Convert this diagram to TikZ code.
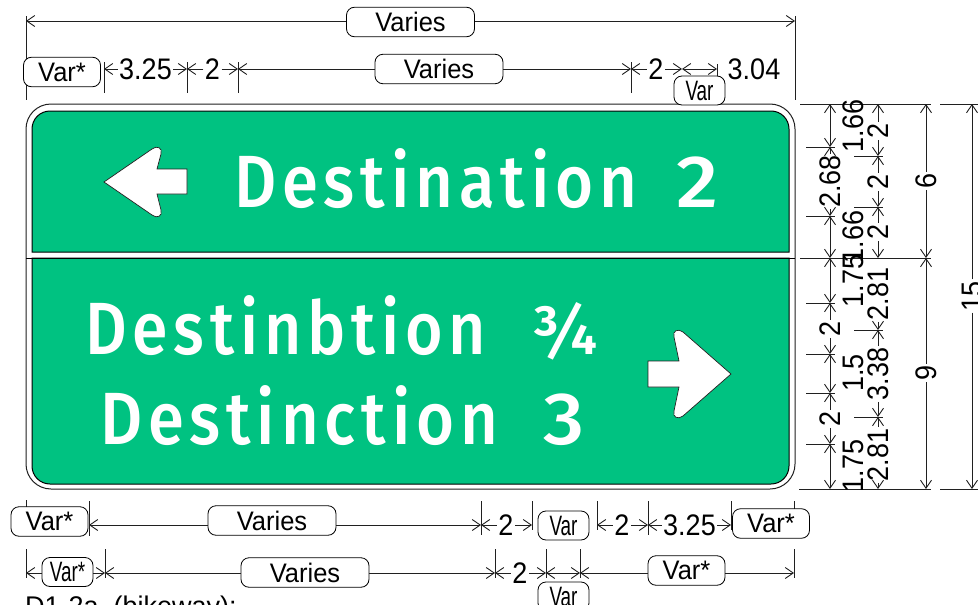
\documentclass[tikz,border=0pt]{standalone}
\usepackage{fontspec}
\setmainfont{Liberation Sans}
\newfontfamily\signfont[LetterSpace=9,Ligatures=NoCommon]{Fira Sans Medium}
\usetikzlibrary{arrows.meta}
\definecolor{signgreen}{HTML}{00C281}
\definecolor{inkline}{HTML}{202020}
\tikzset{
  dimline/.style={draw=inkline,line width=0.9pt,-{Straight Barb[length=8pt,width=11pt]}},
  dimboth/.style={draw=inkline,line width=0.9pt,{Straight Barb[length=8pt,width=11pt]}-{Straight Barb[length=8pt,width=11pt]}},
  extline/.style={draw=inkline,line width=0.9pt},
  pill/.style={draw=black,fill=white,line width=0.8pt,rounded corners=8pt,inner sep=0pt,font=\fontsize{25.5}{25.5}\selectfont},
  bigpill/.style={pill,minimum width=128pt,minimum height=29.5pt},
  midpill/.style={pill,minimum width=77pt,minimum height=29.5pt},
  smallpill/.style={pill,minimum width=51pt,minimum height=29pt},
  lab/.style={inner sep=1.5pt,font=\fontsize{27}{27}\selectfont},
  vlab/.style={lab,rotate=90},
  signtext/.style={inner sep=0pt,text=white,anchor=base west,font=\signfont\fontsize{74}{74}\selectfont},
  signpanel/.style={draw=black,line width=1pt,fill=signgreen},
  signarrow/.style={draw=inkline,line width=0.7pt,fill=white}
}
\newcommand{\hconn}[3]{\draw[dimline] (#3 -| #1.#2) -- (#3);}
\newcommand{\narrowvar}[1]{\scalebox{0.74}[1.1]{#1}}
\newcommand{\tall}[1]{\scalebox{1}[1.1]{#1}}
\newcommand{\ptall}[1]{\scalebox{1}[1.05]{#1}}
\begin{document}
\begin{tikzpicture}[x=1pt,y=-1pt]
\useasboundingbox (0,0) rectangle (978,605);
% sign
\draw[draw=inkline,line width=1pt,fill=white,rounded corners=25pt] (26,104) rectangle (795,489);
\path[signpanel] (32,252) [rounded corners=18pt] -- (32,111) -- (789,111) [sharp corners] -- (789,252) -- cycle;
\path[signpanel] (32,258) -- (789,258) [rounded corners=18pt] -- (789,484) -- (32,484) [sharp corners] -- cycle;
\draw[draw=black,line width=1pt] (26,258) -- (795,258);
\node[signtext] (dest2) at (234,207) {\resizebox{403pt}{\height}{Destination}\hspace{14pt} \resizebox{42pt}{\height}{2}};
\node[signtext] (dest3) at (85,354) {\resizebox{401pt}{\height}{Destinbtion}};
\node[signtext] (frac) at (531,354) {\resizebox{67pt}{52pt}{¾}};
\node[signtext] (dest4) at (100,444) {\resizebox{398pt}{\height}{Destinction}\hspace{20pt} \resizebox{41pt}{\height}{3}};
\path[signarrow] (104,182) -- (152,149) .. controls (157,145) and (163,148) .. (161,154) -- (157,169) -- (187,169) -- (187,194) -- (157,194) -- (161,210) .. controls (163,216) and (157,219) .. (152,215) -- cycle;
\path[signarrow] (731,374) -- (683,332) .. controls (678,328) and (672,331) .. (674,337) -- (679,361) -- (648,361) -- (648,387) -- (679,387) -- (674,411) .. controls (672,417) and (678,420) .. (683,416) -- cycle;
% extension lines top
\draw[extline] (26,16) -- (26,100);
\draw[extline] (795,16) -- (795,100);
\draw[extline] (104,62) -- (104,93);
\draw[extline] (187,62) -- (187,93);
\draw[extline] (238,62) -- (238,93);
\draw[extline] (631,62) -- (631,93);
\draw[extline] (717,64) -- (717,76);
% row 1
\coordinate (r1l) at (26,21);
\coordinate (r1r) at (795,21);
\node[bigpill] (r1v) at (410.5,22) {\ptall{Varies}};
\hconn{r1v}{west}{r1l}
\hconn{r1v}{east}{r1r}
% row 2
\coordinate (r2a) at (104,69);
\coordinate (r2b) at (187,69);
\coordinate (r2c) at (238,69);
\coordinate (r2d) at (631,69);
\coordinate (r2e) at (682,69);
\coordinate (r2f) at (717,69);
\node[midpill] (r2var) at (62,72) {\ptall{Var*}};
\node[lab] (r2n1) at (145.5,69) {\tall{3.25}};
\node[lab] (r2n2) at (212.5,69) {\tall{2}};
\node[bigpill] (r2v) at (439,69) {\ptall{Varies}};
\node[lab] (r2n3) at (656,69) {\tall{2}};
\node[lab] (r2n4) at (754,69) {\tall{3.04}};
\node[smallpill,minimum height=29pt] (r2s) at (699.5,90.5) {\narrowvar{Var}};
\draw[dimline] (r2n1) -- (r2a);
\draw[dimline] (r2n1) -- (r2b);
\draw[dimline] (r2n2) -- (r2b);
\draw[dimline] (r2n2) -- (r2c);
\hconn{r2v}{west}{r2c}
\hconn{r2v}{east}{r2d}
\draw[dimline] (r2n3) -- (r2d);
\draw[dimline] (r2n3) -- (r2e);
\draw[dimboth] (r2e) -- (r2f);
% row 3
\coordinate (r3a) at (89,525);
\coordinate (r3b) at (481,525);
\coordinate (r3c) at (532,525);
\coordinate (r3d) at (597,525);
\coordinate (r3e) at (648,525);
\coordinate (r3f) at (731,525);
\draw[extline] (26,500) -- (26,508);
\draw[extline] (89,501) -- (89,536);
\draw[extline] (481,501) -- (481,535);
\draw[extline] (532,501) -- (532,530);
\draw[extline] (597,501) -- (597,530);
\draw[extline] (648,501) -- (648,535);
\draw[extline] (731,501) -- (731,530);
\draw[extline] (794,501) -- (794,510);
\node[midpill] (r3var) at (49.5,521.5) {\ptall{Var*}};
\node[bigpill] (r3v) at (272,520.5) {\ptall{Varies}};
\node[lab] (r3n1) at (506,525) {\tall{2}};
\node[smallpill] (r3s) at (563.5,525.5) {\narrowvar{Var}};
\node[lab] (r3n2) at (622,525) {\tall{2}};
\node[lab] (r3n3) at (689.5,525) {\tall{3.25}};
\node[midpill] (r3end) at (771,523.5) {\ptall{Var*}};
\hconn{r3v}{west}{r3a}
\hconn{r3v}{east}{r3b}
\draw[dimline] (r3n1) -- (r3b);
\draw[dimline] (r3n1) -- (r3c);
\draw[dimline] (r3n2) -- (r3d);
\draw[dimline] (r3n2) -- (r3e);
\draw[dimline] (r3n3) -- (r3e);
\draw[dimline] (r3n3) -- (r3f);
% row 4
\coordinate (r4a) at (26,573);
\coordinate (r4b) at (105,573);
\coordinate (r4c) at (495,573);
\coordinate (r4d) at (546,573);
\coordinate (r4e) at (580,573);
\coordinate (r4f) at (794,573);
\draw[extline] (26,549) -- (26,578);
\draw[extline] (105,549) -- (105,578);
\draw[extline] (495,549) -- (495,578);
\draw[extline] (546,549) -- (546,578);
\draw[extline] (580,549) -- (580,578);
\draw[extline] (794,549) -- (794,578);
\node[smallpill] (r4var) at (67.5,572) {\narrowvar{Var*}};
\node[bigpill] (r4v) at (305,572.5) {\ptall{Varies}};
\node[lab] (r4n) at (520,573) {\tall{2}};
\node[smallpill] (r4s) at (563.5,596.5) {\narrowvar{Var}};
\node[midpill] (r4end) at (686.5,570.5) {\ptall{Var*}};
\hconn{r4var}{west}{r4a}
\hconn{r4var}{east}{r4b}
\hconn{r4v}{west}{r4b}
\hconn{r4v}{east}{r4c}
\draw[dimline] (r4n) -- (r4c);
\draw[dimline] (r4n) -- (r4d);
\draw[dimboth] (r4d) -- (r4e);
\hconn{r4end}{west}{r4e}
\hconn{r4end}{east}{r4f}
% bottom note
\node[inner sep=0pt,anchor=base west,font=\fontsize{27}{27}\selectfont] (note) at (25,615) {D1-2a\ \ (bikeway):};
% vertical extension lines
\foreach \yy/\xa/\xb in {104/800/931,258/800/931,489/799/931}{\draw[extline] (\xa,\yy) -- (\xb,\yy);}
\draw[extline] (940,104) -- (978,104);
\draw[extline] (940,489) -- (978,489);
\foreach \yy in {147,216,303,354,393,444}{\draw[extline] (806,\yy) -- (835,\yy);}
\foreach \yy in {156,207,330,417}{\draw[extline] (854,\yy) -- (883,\yy);}
% column 1
\coordinate (c1a) at (830,104);
\coordinate (c1b) at (830,147);
\coordinate (c1c) at (830,216);
\coordinate (c1d) at (830,258);
\coordinate (c1e) at (830,303);
\coordinate (c1f) at (830,354);
\coordinate (c1g) at (830,393);
\coordinate (c1h) at (830,444);
\coordinate (c1i) at (830,489);
\node[vlab] (c1n1) at (830,181.5) {\tall{2.68}};
\node[vlab] (c1n2) at (830,329) {\tall{2}};
\node[vlab] (c1n3) at (830,419) {\tall{2}};
\draw[dimboth] (c1a) -- (c1b);
\draw[dimline] (c1n1) -- (c1b);
\draw[dimline] (c1n1) -- (c1c);
\draw[dimboth] (c1c) -- (c1d);
\draw[dimboth] (c1d) -- (c1e);
\draw[dimline] (c1n2) -- (c1e);
\draw[dimline] (c1n2) -- (c1f);
\draw[dimboth] (c1f) -- (c1g);
\draw[dimline] (c1n3) -- (c1g);
\draw[dimline] (c1n3) -- (c1h);
\draw[dimboth] (c1h) -- (c1i);
\node[vlab] (s1) at (853,126) {\tall{1.66}};
\node[vlab] (s2) at (853,237) {\tall{1.66}};
\node[vlab] (s3) at (853,281) {\tall{1.75}};
\node[vlab] (s4) at (853,373) {\tall{1.5}};
\node[vlab] (s5) at (853,466) {\tall{1.75}};
% column 2
\coordinate (c2a) at (878,104);
\coordinate (c2b) at (878,156);
\coordinate (c2c) at (878,207);
\coordinate (c2d) at (878,258);
\coordinate (c2e) at (878,330);
\coordinate (c2f) at (878,417);
\coordinate (c2g) at (878,489);
\node[vlab] (c2n1) at (878,131) {\tall{2}};
\node[vlab] (c2n2) at (878,182) {\tall{2}};
\node[vlab] (c2n3) at (878,232) {\tall{2}};
\node[vlab] (c2n4) at (878,294) {\tall{2.81}};
\node[vlab] (c2n5) at (878,374) {\tall{3.38}};
\node[vlab] (c2n6) at (878,455) {\tall{2.81}};
\draw[dimline] (c2n1) -- (c2a);
\draw[dimline] (c2n1) -- (c2b);
\draw[dimline] (c2n2) -- (c2b);
\draw[dimline] (c2n2) -- (c2c);
\draw[dimline] (c2n3) -- (c2c);
\draw[dimline] (c2n3) -- (c2d);
\draw[dimline] (c2n4) -- (c2e);
\draw[dimline] (c2n5) -- (c2e);
\draw[dimline] (c2n5) -- (c2f);
\draw[dimline] (c2n6) -- (c2f);
\draw[dimline] (c2n6) -- (c2g);
% column 3
\coordinate (c3a) at (926,104);
\coordinate (c3b) at (926,258);
\coordinate (c3c) at (926,489);
\node[vlab] (c3n1) at (926,181) {\tall{6}};
\node[vlab] (c3n2) at (926,373) {\tall{9}};
\draw[dimline] (c3n1) -- (c3a);
\draw[dimline] (c3n1) -- (c3b);
\draw[dimline] (c3n2) -- (c3b);
\draw[dimline] (c3n2) -- (c3c);
% column 4
\coordinate (c4a) at (972,104);
\coordinate (c4b) at (972,489);
\node[vlab] (c4n1) at (972,296) {\tall{15}};
\draw[dimline] (c4n1) -- (c4a);
\draw[dimline] (c4n1) -- (c4b);
\end{tikzpicture}
\end{document}
